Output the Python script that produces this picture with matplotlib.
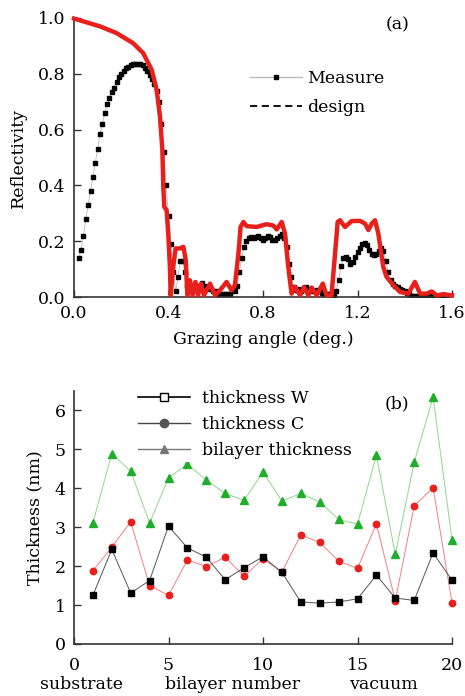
import numpy as np
import matplotlib
matplotlib.use('Agg')
import matplotlib.pyplot as plt
from matplotlib.lines import Line2D

# ---- panel (a): reflectivity vs grazing angle ----
# measured curve, sampled every 0.01 deg from 0.02 to 1.58
measure_angle = np.round(np.arange(0.02, 1.585, 0.01), 2)
measure_refl = [
    0.14, 0.17, 0.22, 0.28, 0.33, 0.38, 0.43, 0.48, 0.53, 0.585,
    0.62, 0.66, 0.69, 0.715, 0.735, 0.75, 0.77, 0.79, 0.80, 0.81,
    0.82, 0.825, 0.83, 0.835, 0.835, 0.835, 0.835, 0.83, 0.82, 0.81,
    0.795, 0.78, 0.765, 0.74, 0.70, 0.62, 0.52, 0.40, 0.29, 0.19,
    0.09, 0.02, 0.07, 0.13, 0.13, 0.09, 0.04, 0.02, 0.03, 0.04,
    0.03, 0.04, 0.05, 0.04, 0.03, 0.04, 0.03, 0.02, 0.02, 0.01,
    0.01, 0.01, 0.01, 0.01, 0.01, 0.02, 0.02, 0.04, 0.09, 0.14,
    0.18, 0.20, 0.21, 0.215, 0.21, 0.215, 0.22, 0.21, 0.205, 0.21,
    0.22, 0.215, 0.205, 0.205, 0.21, 0.22, 0.225, 0.21, 0.18, 0.12,
    0.07, 0.035, 0.025, 0.03, 0.02, 0.03, 0.035, 0.03, 0.025, 0.02,
    0.02, 0.025, 0.02, 0.015, 0.01, 0.01, 0.01, 0.005, 0.005, 0.02,
    0.06, 0.11, 0.14, 0.145, 0.135, 0.12, 0.125, 0.145, 0.16, 0.175,
    0.19, 0.195, 0.185, 0.17, 0.155, 0.15, 0.155, 0.165, 0.175, 0.165,
    0.13, 0.09, 0.06, 0.045, 0.04, 0.035, 0.03, 0.025, 0.02, 0.015,
    0.01, 0.005, 0.005, 0.005, 0.005, 0.005, 0.005, 0.005, 0.005, 0.008,
    0.005, 0.005, 0.005, 0.005, 0.005, 0.005, 0.005,
]

design_angle = [
    0.0, 0.11, 0.18, 0.25, 0.293, 0.329, 0.35, 0.364, 0.374, 0.378,
    0.382, 0.392, 0.399, 0.406, 0.409, 0.42, 0.43, 0.449, 0.463, 0.473,
    0.48, 0.491, 0.502, 0.514, 0.525, 0.538, 0.55, 0.576, 0.597, 0.618,
    0.646, 0.667, 0.681, 0.696, 0.705, 0.717, 0.731, 0.773, 0.815, 0.844,
    0.858, 0.879, 0.893, 0.907, 0.921, 0.935, 0.957, 0.973, 0.992, 1.006,
    1.027, 1.053, 1.069, 1.09, 1.105, 1.116, 1.126, 1.147, 1.175, 1.21,
    1.232, 1.246, 1.26, 1.274, 1.288, 1.309, 1.323, 1.352, 1.38, 1.415,
    1.443, 1.465, 1.493, 1.514, 1.535, 1.563, 1.6,
]
design_refl = [
    0.998, 0.97, 0.946, 0.91, 0.874, 0.814, 0.742, 0.647, 0.527, 0.395,
    0.323, 0.311, 0.228, 0.108, 0.006, 0.108, 0.174, 0.174, 0.18, 0.132,
    0.006, 0.06, 0.006, 0.054, 0.006, 0.048, 0.006, 0.048, 0.006, 0.024,
    0.054, 0.024, 0.042, 0.156, 0.251, 0.269, 0.254, 0.251, 0.261, 0.256,
    0.242, 0.269, 0.228, 0.108, 0.012, 0.036, 0.006, 0.036, 0.006, 0.034,
    0.006, 0.048, 0.006, 0.006, 0.156, 0.269, 0.275, 0.251, 0.272, 0.273,
    0.263, 0.24, 0.263, 0.275, 0.228, 0.108, 0.072, 0.042, 0.018, 0.012,
    0.054, 0.012, 0.012, 0.02, 0.006, 0.01, 0.006,
]

# ---- panel (b): layer thicknesses ----
bilayer = list(range(1, 21))
thick_w = [1.25, 2.43, 1.31, 1.63, 3.03, 2.47, 2.23, 1.65, 1.96, 2.24,
           1.84, 1.08, 1.05, 1.08, 1.16, 1.77, 1.18, 1.12, 2.34, 1.64]
thick_c = [1.88, 2.49, 3.14, 1.50, 1.25, 2.16, 1.99, 2.23, 1.74, 2.19,
           1.85, 2.80, 2.61, 2.13, 1.94, 3.09, 1.11, 3.55, 4.01, 1.06]
thick_bi = [3.11, 4.89, 4.44, 3.11, 4.27, 4.62, 4.21, 3.87, 3.69, 4.42,
            3.67, 3.87, 3.65, 3.20, 3.08, 4.85, 2.30, 4.67, 6.34, 2.68]

plt.rcParams['font.family'] = ['DejaVu Serif']
plt.rcParams['font.size'] = 12

RED = '#e8201c'
GREEN = '#1fae2a'
SPINE = '#333333'


def style_axes(ax):
    for side in ('top', 'right'):
        ax.spines[side].set_visible(False)
    for side in ('left', 'bottom'):
        ax.spines[side].set_color(SPINE)
        ax.spines[side].set_linewidth(1.2)
    ax.tick_params(direction='in', length=5, width=1.0, color=SPINE,
                   labelsize=12.5, pad=6)


fig = plt.figure(figsize=(4.65, 6.96), dpi=100)
ax1 = fig.add_axes([74 / 465, 1 - 297 / 696, 378 / 465, 279 / 696])
ax2 = fig.add_axes([74 / 465, 1 - 644 / 696, 378 / 465, 253 / 696])

# panel (a)
ax1.plot(measure_angle, measure_refl, color='#bbbbbb', lw=0.6, marker='s',
         ms=2.2, mfc='black', mec='black', zorder=2)
ax1.plot(design_angle, design_refl, color=RED, lw=3.2, zorder=3,
         clip_on=False, solid_joinstyle='round')
ax1.set_xlim(0, 1.6)
ax1.set_ylim(0, 1.0)
ax1.set_xticks([0.0, 0.4, 0.8, 1.2, 1.6])
ax1.set_yticks([0.0, 0.2, 0.4, 0.6, 0.8, 1.0])
ax1.xaxis.set_major_formatter(plt.FormatStrFormatter('%.1f'))
ax1.yaxis.set_major_formatter(plt.FormatStrFormatter('%.1f'))
style_axes(ax1)
ax1.set_ylabel('Reflectivity', fontsize=12.5, labelpad=8)
ax1.set_xlabel('Grazing angle (deg.)', fontsize=12.5, labelpad=6)
ax1.text(0.855, 0.975, '(a)', transform=ax1.transAxes, fontsize=12.5,
         ha='center', va='center')

leg_a = [
    Line2D([], [], color='#bbbbbb', lw=1.0, marker='s', ms=3, mfc='black',
           mec='black', label='Measure'),
    Line2D([], [], color='black', lw=1.3, ls=(0, (4, 2.5)), label='design'),
]
ax1.legend(handles=leg_a, loc='upper left', bbox_to_anchor=(0.466, 0.812),
           frameon=False, handlelength=3.0, handletextpad=0.3,
           labelspacing=0.65, numpoints=1, fontsize=12.5,
           borderaxespad=0, borderpad=0)

# panel (b)
ax2.plot(bilayer, thick_w, color='#555555', lw=0.7, marker='s', ms=4.2,
         mfc='black', mec='black', zorder=3, clip_on=False)
ax2.plot(bilayer, thick_c, color='#f08080', lw=0.7, marker='o', ms=4.6,
         mfc=RED, mec=RED, zorder=2, clip_on=False)
ax2.plot(bilayer, thick_bi, color='#8fd68a', lw=0.7, marker='^', ms=5.2,
         mfc=GREEN, mec=GREEN, zorder=2, clip_on=False)
ax2.set_xlim(0, 20)
ax2.set_ylim(0, 6.5)
ax2.set_xticks([0, 5, 10, 15, 20])
ax2.set_yticks([0, 1, 2, 3, 4, 5, 6])
style_axes(ax2)
ax2.tick_params(axis='x', pad=9)
ax2.set_ylabel('Thickness (nm)', fontsize=12.5, labelpad=8)
ax2.text(0.855, 0.95, '(b)', transform=ax2.transAxes, fontsize=12.5,
         ha='center', va='center')

under = ax2.get_xaxis_transform()
ax2.text(0.42, -0.162, 'substrate', transform=under, ha='center',
         va='center', fontsize=12.5)
ax2.text(8.4, -0.162, 'bilayer number', transform=under, ha='center',
         va='center', fontsize=12.5)
ax2.text(16.35, -0.162, 'vacuum', transform=under, ha='center',
         va='center', fontsize=12.5)

leg_b = [
    Line2D([], [], color='black', lw=1.2, marker='s', ms=5.5, mfc='white',
           mec='black', label='thickness W'),
    Line2D([], [], color='#444444', lw=1.0, marker='o', ms=6, mfc='#555555',
           mec='#555555', label='thickness C'),
    Line2D([], [], color='#777777', lw=1.0, marker='^', ms=6, mfc='#777777',
           mec='#777777', label='bilayer thickness'),
]
lg = ax2.legend(handles=leg_b, loc='upper left', bbox_to_anchor=(0.16, 1.016),
                frameon=True, facecolor='white', edgecolor='none',
                framealpha=1.0, handlelength=3.0, handletextpad=0.7,
                labelspacing=0.5, numpoints=1, fontsize=12.5,
                borderaxespad=0, borderpad=0.2)
lg.set_zorder(5)

fig.savefig('out.png', dpi=100)
